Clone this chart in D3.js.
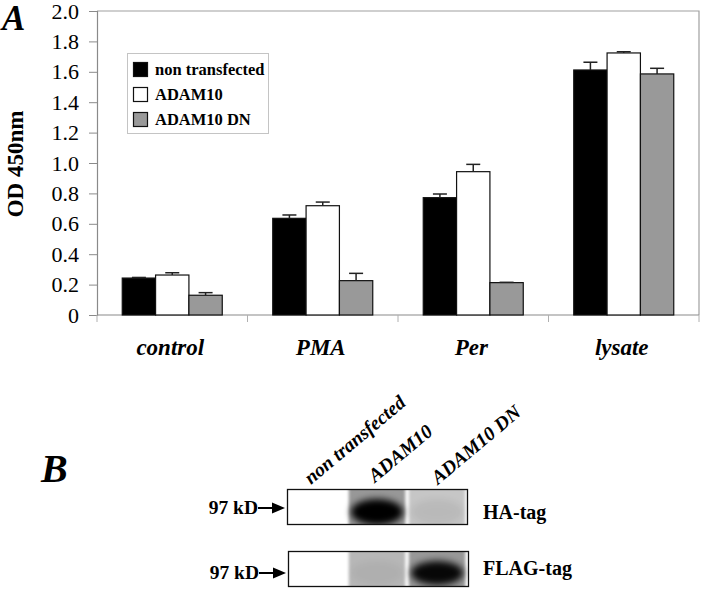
<!DOCTYPE html>
<html><head><meta charset="utf-8">
<script src="https://cdn.jsdelivr.net/npm/d3@7"></script>
<style>
html,body{margin:0;padding:0;background:#fff;}
svg{display:block;}
text{font-family:"Liberation Serif","Times New Roman",serif;fill:#000;}
</style></head>
<body>
<script>
// ---------- Data ----------
const categories = ["control", "PMA", "Per", "lysate"];
const seriesNames = ["non transfected", "ADAM10", "ADAM10 DN"];
const nonTransfected = [0.243, 0.636, 0.772, 1.612];
const adam10 = [0.263, 0.719, 0.943, 1.724];
const adam10DN = [0.130, 0.226, 0.213, 1.586];
const errNonTransfected = [0.004, 0.022, 0.024, 0.051];
const errAdam10 = [0.015, 0.024, 0.048, 0.008];
const errAdam10DN = [0.017, 0.048, 0.002, 0.037];
const yTickValues = [0, 0.2, 0.4, 0.6, 0.8, 1.0, 1.2, 1.4, 1.6, 1.8, 2.0];
const yTickLabels = ["0", "0.2", "0.4", "0.6", "0.8", "1.0", "1.2", "1.4", "1.6", "1.8", "2.0"];
const yTitle = "OD 450nm";
// Blot (panel B)
const blotLanes = ["non transfected", "ADAM10", "ADAM10 DN"];
const blotRows = ["HA-tag", "FLAG-tag"];
const blotMarker = "97 kD";
const haBackground = [0, 0.40, 0.22];
const haBand = [0, 1.0, 0.06];
const flagBackground = [0, 0.28, 0.40];
const flagBand = [0, 0.04, 0.95];

const seriesValues = [nonTransfected, adam10, adam10DN];
const seriesErrors = [errNonTransfected, errAdam10, errAdam10DN];
const seriesColors = ["#000000", "#ffffff", "#999999"];

const W = 720, H = 606;
const svg = d3.select("body").append("svg").attr("width", W).attr("height", H);
svg.append("rect").attr("width", W).attr("height", H).attr("fill", "#fff");

// ---------- Panel A ----------
const plot = {left: 97, right: 699, top: 11, bottom: 315};
const x0 = d3.scaleBand().domain(categories).range([plot.left, plot.right])
  .paddingInner(0.3355).paddingOuter(0.16775);
const x1 = d3.scaleBand().domain(seriesNames).range([0, x0.bandwidth()]).padding(0);
const y = d3.scaleLinear().domain([0, 2]).range([plot.bottom, plot.top]);

const axisColor = "#8a8a8a";
svg.append("path")
  .attr("d", `M${plot.left},${plot.top}H${plot.right}V${plot.bottom}`)
  .attr("fill", "none").attr("stroke", "#a0a0a0").attr("stroke-width", 1.2);

const yAxis = d3.axisLeft(y).tickValues(yTickValues)
  .tickFormat((d, i) => yTickLabels[i]).tickSize(8).tickPadding(10);
const gy = svg.append("g").attr("transform", `translate(${plot.left},0)`).call(yAxis);
gy.attr("font-family", null);
gy.select(".domain").attr("stroke", axisColor).attr("stroke-width", 1.2);
gy.selectAll(".tick line").attr("stroke", axisColor);
gy.selectAll(".tick text").style("font-family", '"Liberation Serif","Times New Roman",serif')
  .style("font-size", "22px").attr("fill", "#000");

const step = x0.step();
const boundaries = d3.range(categories.length + 1).map(i => plot.left + i * step);
svg.append("line").attr("x1", plot.left).attr("x2", plot.right)
  .attr("y1", y(0)).attr("y2", y(0)).attr("stroke", axisColor).attr("stroke-width", 1.2);
svg.selectAll(".xtick").data(boundaries).enter().append("line")
  .attr("x1", d => d).attr("x2", d => d).attr("y1", y(0)).attr("y2", y(0) + 7)
  .attr("stroke", "#b0b0b0").attr("stroke-width", 1);

svg.selectAll(".xlab").data(categories).enter().append("text")
  .attr("x", d => x0(d) + x0.bandwidth() / 2 - 2).attr("y", 355)
  .attr("text-anchor", "middle").style("font-size", "23px")
  .style("font-weight", "bold").style("font-style", "italic").text(d => d);

const groups = svg.selectAll(".grp").data(categories).enter().append("g")
  .attr("transform", d => `translate(${x0(d)},0)`);
groups.each(function(cat, ci) {
  const g = d3.select(this);
  seriesNames.forEach((s, si) => {
    const v = seriesValues[si][ci], e = seriesErrors[si][ci];
    const bx = x1(s), bw = x1.bandwidth();
    g.append("rect").attr("x", bx).attr("y", y(v)).attr("width", bw)
      .attr("height", y(0) - y(v)).attr("fill", seriesColors[si])
      .attr("stroke", "#111").attr("stroke-width", 1.2);
    const cx = bx + bw / 2;
    g.append("line").attr("x1", cx).attr("x2", cx).attr("y1", y(v)).attr("y2", y(v + e))
      .attr("stroke", "#222").attr("stroke-width", 1.5);
    g.append("line").attr("x1", cx - 7).attr("x2", cx + 7).attr("y1", y(v + e)).attr("y2", y(v + e))
      .attr("stroke", "#222").attr("stroke-width", 1.5);
  });
});

const lg = svg.append("g");
lg.append("rect").attr("x", 127.5).attr("y", 53.5).attr("width", 141).attr("height", 80)
  .attr("fill", "#fff").attr("stroke", "#c4c4c4").attr("stroke-width", 1);
seriesNames.forEach((s, i) => {
  const yy = 62 + i * 25;
  lg.append("rect").attr("x", 133.5).attr("y", yy + 0.5).attr("width", 14).attr("height", 14)
    .attr("fill", seriesColors[i]).attr("stroke", "#111").attr("stroke-width", 1.2);
  lg.append("text").attr("x", 155).attr("y", yy + 12.5).style("font-size", "16.5px")
    .style("font-weight", "bold").text(s);
});

svg.append("text").attr("transform", "translate(23,164) rotate(-90)")
  .attr("text-anchor", "middle").style("font-size", "23px").style("font-weight", "bold")
  .text(yTitle);

svg.append("text").attr("x", 2).attr("y", 30).style("font-size", "35px")
  .style("font-weight", "bold").style("font-style", "italic").text("A");

// ---------- Panel B ----------
svg.append("text").attr("x", 41).attr("y", 482).style("font-size", "40px")
  .style("font-weight", "bold").style("font-style", "italic").text("B");

const defs = svg.append("defs");
const fBlur = defs.append("filter").attr("id", "blur").attr("x", "-50%").attr("y", "-50%")
  .attr("width", "200%").attr("height", "200%");
fBlur.append("feGaussianBlur").attr("stdDeviation", 3.5);
const fSoft = defs.append("filter").attr("id", "soft").attr("x", "-20%").attr("y", "-50%")
  .attr("width", "140%").attr("height", "200%");
fSoft.append("feGaussianBlur").attr("stdDeviation", 1.8);

const lane = d3.scaleBand().domain(blotLanes).range([285, 469]).padding(0.06);
const rowBoxes = [
  {x: 287, y: 489, w: 180, h: 35, bg: haBackground, band: haBand, markerY: 508, labelY: 519, cy: 23, ry: 13},
  {x: 288, y: 551, w: 180, h: 35, bg: flagBackground, band: flagBand, markerY: 573, labelY: 575, cy: 22, ry: 12}
];

rowBoxes.forEach((b, ri) => {
  const cid = "clip" + ri;
  defs.append("clipPath").attr("id", cid).append("rect")
    .attr("x", b.x).attr("y", b.y).attr("width", b.w).attr("height", b.h);
  const g = svg.append("g").attr("clip-path", `url(#${cid})`);
  g.append("rect").attr("x", b.x).attr("y", b.y).attr("width", b.w).attr("height", b.h).attr("fill", "#fff");
  blotLanes.forEach((ln, li) => {
    const lx = lane(ln), lw = lane.bandwidth();
    if (b.bg[li] > 0) {
      g.append("rect").attr("x", lx).attr("y", b.y - 4).attr("width", lw).attr("height", b.h + 8)
        .attr("fill", "#000").attr("opacity", b.bg[li]).attr("filter", "url(#soft)");
    }
    if (b.band[li] > 0) {
      g.append("ellipse").attr("cx", lx + lw / 2).attr("cy", b.y + b.cy)
        .attr("rx", lw / 2 - 2).attr("ry", b.ry)
        .attr("fill", "#000").attr("opacity", b.band[li]).attr("filter", "url(#blur)");
    }
  });
  svg.append("rect").attr("x", b.x + 0.5).attr("y", b.y + 0.5).attr("width", b.w).attr("height", b.h)
    .attr("fill", "none").attr("stroke", "#111").attr("stroke-width", 1.3);

  svg.append("text").attr("x", b.x - 29).attr("y", b.markerY + 6)
    .attr("text-anchor", "end").style("font-size", "19.5px").style("font-weight", "bold")
    .text(blotMarker);
  const tip = b.x - 2;
  svg.append("line").attr("x1", b.x - 29).attr("x2", tip - 10).attr("y1", b.markerY).attr("y2", b.markerY)
    .attr("stroke", "#000").attr("stroke-width", 2);
  svg.append("path").attr("d", `M${tip - 13},${b.markerY - 5.5}L${tip},${b.markerY}L${tip - 13},${b.markerY + 5.5}Z`)
    .attr("fill", "#000");

  svg.append("text").attr("x", 483).attr("y", b.labelY).style("font-size", "20px")
    .style("font-weight", "bold").text(blotRows[ri]);
});

const laneLabelPos = [[311, 485], [375, 483], [438, 485]];
blotLanes.forEach((ln, i) => {
  svg.append("text").attr("transform", `translate(${laneLabelPos[i][0]},${laneLabelPos[i][1]}) rotate(-40)`)
    .style("font-size", "19.5px").style("font-weight", "bold").style("font-style", "italic")
    .text(ln);
});
</script>
</body></html>
